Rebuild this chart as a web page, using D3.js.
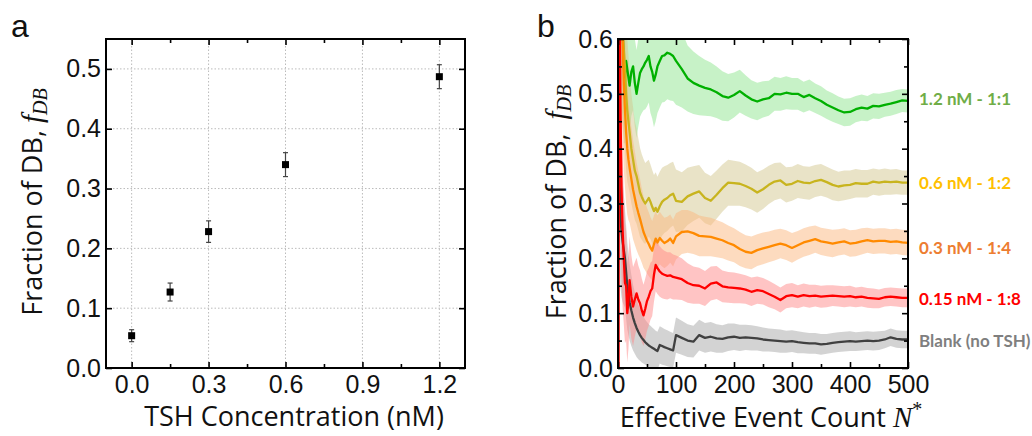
<!DOCTYPE html>
<html><head><meta charset="utf-8">
<script src="https://cdn.jsdelivr.net/npm/d3@7"></script>
<style>
html,body{margin:0;padding:0;background:#fff;}
svg{display:block;}
</style></head>
<body><svg id="c" width="1032" height="436"></svg>
<script>
// ---------- Panel a data ----------
const concentrations = [0.0, 0.15, 0.3, 0.6, 1.2];
const fractionDB = [0.054, 0.127, 0.228, 0.340, 0.487];
const fractionErr = [0.010, 0.015, 0.018, 0.020, 0.020];
const aXTicks = [0.0, 0.3, 0.6, 0.9, 1.2];
const aYTicks = [0.0, 0.1, 0.2, 0.3, 0.4, 0.5];

// ---------- Panel b data ----------
const eventCount = [1,2,3,4,6,8,10,12,14,16,18,20,23,26,29,32,35,38,41,44,47,50,53,56,59,62,65,68,72,76,80,85,90,95,100,110,120,130,140,150,160,170,180,190,200,210,220,230,240,250,260,270,280,290,300,310,320,330,340,350,360,370,380,390,400,410,420,430,440,450,460,470,480,490,500];

const green = [1.0,1.0,0.67,0.75,0.67,0.62,0.55, 0.53,0.56,0.545,0.53,0.515,
 0.54,0.55,0.52,0.50,0.52,0.538,0.545,0.55,0.557,0.562,0.569,0.55,0.54,0.524,0.535,0.55,
 0.56,0.569,0.57,0.575,0.573,0.569,0.56,
 0.545,0.528,0.52,0.515,0.511,0.508,0.503,0.496,0.493,0.498,0.505,0.497,0.49,0.486,0.49,0.492,0.50,0.499,0.502,0.50,0.50,0.494,0.498,0.492,0.487,0.48,0.475,0.47,0.466,0.467,0.472,0.475,0.473,0.478,0.477,0.48,0.482,0.485,0.488,0.487];
const greenHalf = [0.25,0.25,0.25,0.22,0.2,0.16,0.14, 0.12,0.11,0.1,0.09,0.085,
 0.08,0.08,0.08,0.08,0.08,0.08,0.08,0.08,0.085,0.085,0.085,0.085,0.085,0.085,0.085,0.085,
 0.085,0.085,0.085,0.085,0.085,0.082,0.08,
 0.07,0.06,0.057,0.054,0.051,0.049,0.047,0.045,0.043,0.041,0.039,0.037,0.035,0.034,0.033,0.032,0.031,0.030,0.030,0.029,0.029,0.028,0.028,0.027,0.027,0.026,0.026,0.025,0.025,0.025,0.024,0.024,0.023,0.023,0.023,0.022,0.022,0.022,0.021,0.021];

const olive = [1.0,1.0,1.0,0.75,0.67,0.62,0.58, 0.55,0.50,0.47,0.45,0.43,
 0.40,0.38,0.36,0.35,0.335,0.32,0.312,0.305,0.30,0.305,0.31,0.303,0.294,0.286,0.292,0.285,
 0.295,0.303,0.307,0.31,0.315,0.318,0.305,
 0.303,0.313,0.318,0.322,0.31,0.305,0.316,0.328,0.338,0.337,0.336,0.332,0.327,0.32,0.326,0.334,0.34,0.342,0.334,0.336,0.341,0.338,0.337,0.341,0.343,0.339,0.334,0.331,0.333,0.334,0.337,0.336,0.336,0.34,0.338,0.34,0.339,0.34,0.338,0.338];
const oliveHalf = [0.25,0.25,0.25,0.22,0.2,0.18,0.16, 0.15,0.14,0.13,0.12,0.11,
 0.1,0.095,0.09,0.087,0.084,0.081,0.078,0.076,0.074,0.072,0.07,0.068,0.067,0.066,0.065,0.064,
 0.063,0.062,0.061,0.06,0.059,0.058,0.057,
 0.054,0.052,0.05,0.048,0.046,0.045,0.044,0.043,0.042,0.041,0.04,0.039,0.038,0.037,0.036,0.035,0.034,0.033,0.032,0.031,0.031,0.03,0.03,0.029,0.029,0.028,0.028,0.027,0.027,0.026,0.026,0.025,0.025,0.024,0.024,0.024,0.023,0.023,0.022,0.022];

const orange = [1.0,1.0,0.67,0.75,0.67,0.6,0.52, 0.47,0.43,0.40,0.38,0.365,
 0.345,0.325,0.31,0.295,0.283,0.272,0.26,0.248,0.24,0.232,0.226,0.219,0.214,0.226,0.236,0.229,
 0.237,0.232,0.228,0.231,0.236,0.228,0.24,
 0.248,0.249,0.246,0.241,0.24,0.239,0.236,0.233,0.228,0.224,0.217,0.212,0.21,0.215,0.218,0.221,0.224,0.227,0.224,0.219,0.224,0.229,0.232,0.235,0.231,0.229,0.227,0.229,0.231,0.227,0.228,0.231,0.233,0.231,0.232,0.232,0.23,0.231,0.229,0.228];
const orangeHalf = [0.25,0.25,0.25,0.22,0.2,0.18,0.16, 0.14,0.13,0.12,0.11,0.1,
 0.095,0.09,0.085,0.08,0.076,0.072,0.068,0.065,0.062,0.06,0.058,0.056,0.054,0.052,0.05,0.049,
 0.048,0.047,0.046,0.045,0.044,0.043,0.042,
 0.04,0.039,0.038,0.037,0.036,0.035,0.034,0.033,0.032,0.031,0.031,0.03,0.03,0.029,0.029,0.028,0.028,0.027,0.027,0.027,0.026,0.026,0.026,0.025,0.025,0.025,0.025,0.024,0.024,0.024,0.024,0.024,0.023,0.023,0.023,0.023,0.023,0.023,0.023,0.023];

const red = [0.0,1.0,0.67,0.5,0.33,0.25,0.2, 0.155,0.15,0.1,0.12,0.16,
 0.13,0.112,0.125,0.136,0.125,0.118,0.105,0.096,0.108,0.122,0.13,0.14,0.145,0.17,0.188,0.182,
 0.176,0.172,0.17,0.168,0.169,0.166,0.165,
 0.162,0.155,0.151,0.15,0.145,0.154,0.156,0.149,0.147,0.146,0.145,0.143,0.139,0.142,0.14,0.135,0.13,0.124,0.131,0.133,0.13,0.133,0.131,0.132,0.13,0.131,0.132,0.131,0.13,0.131,0.129,0.13,0.128,0.127,0.126,0.129,0.13,0.129,0.128,0.128];
const redHalf = [0.2,0.2,0.2,0.18,0.16,0.14,0.12, 0.11,0.1,0.09,0.085,0.08,
 0.076,0.072,0.068,0.065,0.062,0.06,0.058,0.056,0.055,0.054,0.053,0.052,0.05,0.049,0.048,0.047,
 0.046,0.045,0.044,0.043,0.042,0.041,0.04,
 0.038,0.036,0.034,0.033,0.032,0.031,0.03,0.029,0.028,0.028,0.027,0.026,0.026,0.025,0.024,0.024,0.023,0.023,0.022,0.022,0.021,0.021,0.021,0.02,0.02,0.02,0.019,0.019,0.019,0.019,0.018,0.018,0.018,0.018,0.017,0.017,0.017,0.017,0.017,0.017];

const blank = [1.0,0.5,0.33,0.28,0.25,0.23,0.215, 0.2,0.175,0.15,0.135,0.12,
 0.105,0.092,0.082,0.073,0.066,0.06,0.055,0.051,0.047,0.044,0.041,0.039,0.037,0.035,0.033,0.031,
 0.042,0.04,0.038,0.036,0.034,0.032,0.06,
 0.055,0.05,0.048,0.06,0.055,0.057,0.054,0.053,0.056,0.057,0.055,0.056,0.055,0.054,0.052,0.051,0.05,0.049,0.048,0.049,0.047,0.046,0.045,0.045,0.043,0.044,0.046,0.047,0.048,0.049,0.048,0.049,0.05,0.049,0.05,0.052,0.056,0.053,0.052,0.052];
const blankHalf = [0.15,0.15,0.15,0.13,0.12,0.11,0.1, 0.09,0.085,0.08,0.075,0.07,
 0.065,0.06,0.056,0.053,0.05,0.047,0.045,0.043,0.041,0.04,0.039,0.038,0.037,0.036,0.035,0.035,
 0.034,0.034,0.033,0.033,0.032,0.032,0.032,
 0.031,0.03,0.029,0.028,0.027,0.027,0.026,0.025,0.025,0.024,0.024,0.023,0.023,0.022,0.022,0.021,0.021,0.021,0.02,0.02,0.02,0.019,0.019,0.019,0.019,0.018,0.018,0.018,0.018,0.018,0.017,0.017,0.017,0.017,0.017,0.016,0.016,0.016,0.016,0.016];

const seriesNames = ["Blank (no TSH)", "1.2 nM - 1:1", "0.6 nM - 1:2", "0.3 nM - 1:4", "0.15 nM - 1:8"];
const bXTicks = [0, 100, 200, 300, 400, 500];
const bYTicks = [0.0, 0.1, 0.2, 0.3, 0.4, 0.5, 0.6];

// ---------- drawing ----------
const svg = d3.select("#c");
const tickFont = "'Liberation Sans', Arial, sans-serif";
const titleFont = "'Open Sans', sans-serif";

function frameAxes(g, x, y, xt, yt, xMinor, yMinor, fmtX, fmtY, L, R, T, B) {
  const major = 6, minor = 4;
  if (xMinor) {
    g.append("g").attr("transform", `translate(0,${B})`).call(d3.axisBottom(x).tickValues(xMinor).tickSize(-minor).tickFormat(""));
    g.append("g").attr("transform", `translate(0,${T})`).call(d3.axisTop(x).tickValues(xMinor).tickSize(-minor).tickFormat(""));
  }
  if (yMinor) {
    g.append("g").attr("transform", `translate(${L},0)`).call(d3.axisLeft(y).tickValues(yMinor).tickSize(-minor).tickFormat(""));
    g.append("g").attr("transform", `translate(${R},0)`).call(d3.axisRight(y).tickValues(yMinor).tickSize(-minor).tickFormat(""));
  }
  g.append("g").attr("transform", `translate(0,${B})`).call(d3.axisBottom(x).tickValues(xt).tickSize(-major).tickPadding(7).tickFormat(fmtX));
  g.append("g").attr("transform", `translate(0,${T})`).call(d3.axisTop(x).tickValues(xt).tickSize(-major).tickFormat(""));
  g.append("g").attr("transform", `translate(${L},0)`).call(d3.axisLeft(y).tickValues(yt).tickSize(-major).tickPadding(5).tickFormat(fmtY));
  g.append("g").attr("transform", `translate(${R},0)`).call(d3.axisRight(y).tickValues(yt).tickSize(-major).tickFormat(""));
  g.selectAll(".domain").remove();
  g.selectAll(".tick line").attr("stroke", "#000").attr("stroke-width", 1.6);
  g.selectAll(".tick text").attr("font-family", tickFont).attr("font-size", 25).attr("fill", "#111");
  g.append("rect").attr("x", L).attr("y", T).attr("width", R - L).attr("height", B - T)
    .attr("fill", "none").attr("stroke", "#000").attr("stroke-width", 2);
}

function yTitle(cx, cy, extraSpace) {
  const t = svg.append("text").attr("transform", `translate(${cx},${cy}) rotate(-90)`)
    .attr("text-anchor", "middle").attr("font-family", titleFont).attr("font-size", 27).attr("fill", "#111");
  t.append("tspan").text("Fraction of DB," + (extraSpace ? "\u00a0\u00a0" : "\u00a0"));
  t.append("tspan").attr("font-family", "'Liberation Serif', serif").attr("font-style", "italic").attr("font-size", 29).text("f");
  t.append("tspan").attr("font-family", "'Liberation Serif', serif").attr("font-style", "italic").attr("font-size", 20).attr("dy", 5).text("DB");
}

// ===== Panel a =====
const aL = 106, aR = 465, aT = 39, aB = 368;
const xa = d3.scaleLinear().domain([-0.1, 1.3]).range([aL, aR]);
const ya = d3.scaleLinear().domain([0, 0.55]).range([aB, aT]);
const ga = svg.append("g");
ga.append("g").selectAll("line").data(aXTicks).join("line")
  .attr("x1", d => xa(d)).attr("x2", d => xa(d)).attr("y1", aT).attr("y2", aB)
  .attr("stroke", "#bbb").attr("stroke-width", 1).attr("stroke-dasharray", "1.5,2");
ga.append("g").selectAll("line").data(aYTicks.filter(d => d > 0)).join("line")
  .attr("x1", aL).attr("x2", aR).attr("y1", d => ya(d)).attr("y2", d => ya(d))
  .attr("stroke", "#bbb").attr("stroke-width", 1).attr("stroke-dasharray", "1.5,2");
frameAxes(ga, xa, ya, aXTicks, aYTicks, [0.15, 0.45, 0.75, 1.05], null, d3.format(".1f"), d3.format(".1f"), aL, aR, aT, aB);
const pts = concentrations.map((c, i) => ({c, v: fractionDB[i], e: fractionErr[i]}));
const eb = ga.append("g").attr("stroke", "#444").attr("stroke-width", 1.2);
eb.selectAll(".v").data(pts).join("line").attr("x1", d => xa(d.c)).attr("x2", d => xa(d.c))
  .attr("y1", d => ya(d.v - d.e)).attr("y2", d => ya(d.v + d.e));
eb.selectAll(".t").data(pts).join("line").attr("x1", d => xa(d.c) - 2.5).attr("x2", d => xa(d.c) + 2.5)
  .attr("y1", d => ya(d.v + d.e)).attr("y2", d => ya(d.v + d.e));
eb.selectAll(".b").data(pts).join("line").attr("x1", d => xa(d.c) - 2.5).attr("x2", d => xa(d.c) + 2.5)
  .attr("y1", d => ya(d.v - d.e)).attr("y2", d => ya(d.v - d.e));
ga.append("g").selectAll("rect").data(pts).join("rect")
  .attr("x", d => xa(d.c) - 3.5).attr("y", d => ya(d.v) - 3.5).attr("width", 7).attr("height", 7).attr("fill", "#000");

svg.append("text").attr("x", 11).attr("y", 37).attr("font-family", tickFont).attr("font-size", 32).attr("fill", "#111").text("a");
yTitle(42, 202, false);
svg.append("text").attr("x", 294).attr("y", 426).attr("text-anchor", "middle").attr("font-family", titleFont)
  .attr("font-size", 27).attr("fill", "#111").text("TSH Concentration (nM)");

// ===== Panel b =====
const bL = 618, bR = 908, bT = 39, bB = 368;
const xb = d3.scaleLinear().domain([0, 500]).range([bL, bR]);
const yb = d3.scaleLinear().domain([0, 0.6]).range([bB, bT]);
const gb = svg.append("g");
svg.append("defs").append("clipPath").attr("id", "clipb").append("rect")
  .attr("x", bL).attr("y", bT).attr("width", bR - bL).attr("height", bB - bT);
const plot = gb.append("g").attr("clip-path", "url(#clipb)");

const series = [
  {name: seriesNames[0], v: blank, h: blankHalf, line: "#404040", band: "#a8a8a8", label: "#7f7f7f", ly: 346.5},
  {name: seriesNames[1], v: green, h: greenHalf, line: "#00b000", band: "#8fe68f", label: "#70ad47", ly: 105},
  {name: seriesNames[2], v: olive, h: oliveHalf, line: "#c8b41e", band: "#d4c890", label: "#ffc000", ly: 188.5},
  {name: seriesNames[3], v: orange, h: orangeHalf, line: "#ff8a00", band: "#fbb880", label: "#ed7d31", ly: 253.5},
  {name: seriesNames[4], v: red, h: redHalf, line: "#ff0000", band: "#ff8a8a", label: "#ff0000", ly: 304.5}
];
series.forEach(s => { s.data = eventCount.map((n, i) => ({n, v: s.v[i], h: s.h[i]})); });

const area = d3.area().x(d => xb(d.n)).y0(d => yb(d.v - d.h)).y1(d => yb(d.v + d.h));
const line = d3.line().x(d => xb(d.n)).y(d => yb(d.v));
plot.selectAll(".band").data(series).join("path").attr("class", "band")
  .attr("d", d => area(d.data)).attr("fill", d => d.band).attr("fill-opacity", 0.5);
plot.selectAll(".ln").data(series).join("path").attr("class", "ln")
  .attr("d", d => line(d.data)).attr("fill", "none").attr("stroke", d => d.line)
  .attr("stroke-width", 2.3).attr("stroke-linejoin", "round");

frameAxes(gb, xb, yb, bXTicks, bYTicks, [50, 150, 250, 350, 450], [0.05, 0.15, 0.25, 0.35, 0.45, 0.55],
  d3.format("d"), d3.format(".1f"), bL, bR, bT, bB);

svg.append("g").selectAll("text").data(series).join("text")
  .attr("x", 919).attr("y", d => d.ly).attr("font-family", "Lato, sans-serif").attr("font-weight", "bold")
  .attr("font-size", 17).attr("fill", d => d.label).text(d => d.name);

svg.append("text").attr("x", 537).attr("y", 37).attr("font-family", tickFont).attr("font-size", 32).attr("fill", "#111").text("b");
yTitle(566, 202, true);
const xt = svg.append("text").attr("x", 771).attr("y", 427).attr("text-anchor", "middle").attr("font-family", titleFont)
  .attr("font-size", 27).attr("fill", "#111");
xt.append("tspan").text("Effective Event Count ");
xt.append("tspan").attr("font-family", "'Liberation Serif', serif").attr("font-style", "italic").attr("font-size", 29).text("N");
xt.append("tspan").attr("font-family", "'Liberation Serif', serif").attr("font-size", 20).attr("dy", -11).text("*");
</script></body></html>
